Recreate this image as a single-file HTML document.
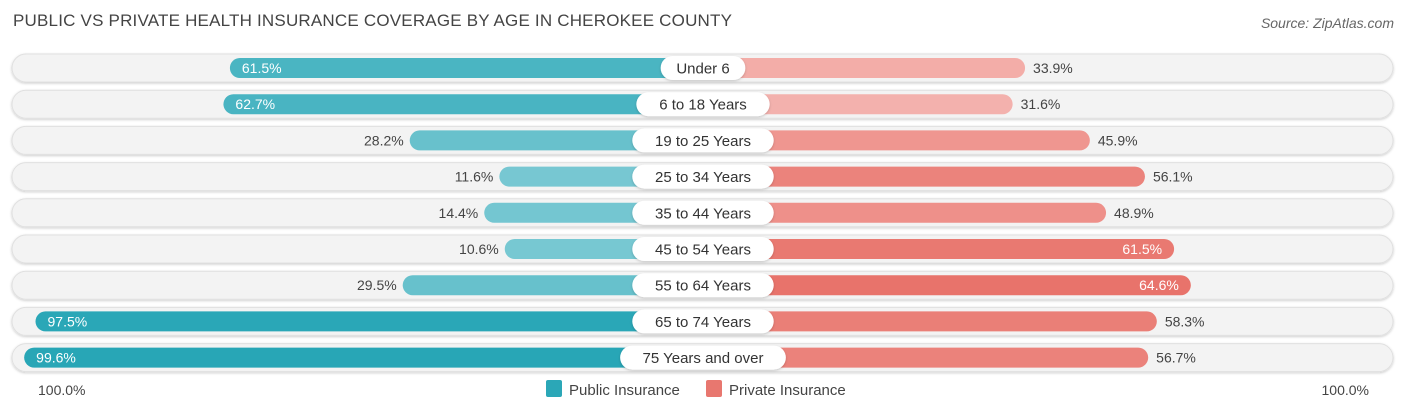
<!DOCTYPE html>
<html><head><meta charset="utf-8"><style>
body{margin:0;background:#fff;font-family:"Liberation Sans",Arial,sans-serif;}
#wrap{position:relative;width:1406px;height:414px;overflow:hidden;}
.title{position:absolute;left:13px;top:11px;font-size:17px;color:#444;letter-spacing:0.2px;}
.source{position:absolute;right:12px;top:15px;font-size:14px;color:#666;font-style:italic;}
</style></head><body>
<div id="wrap">
<div class="title">PUBLIC VS PRIVATE HEALTH INSURANCE COVERAGE BY AGE IN CHEROKEE COUNTY</div>
<div class="source">Source: ZipAtlas.com</div>
<svg id="svg" width="1406" height="414" style="position:absolute;left:0;top:0"></svg>
</div>
<script>
const categories=["Under 6","6 to 18 Years","19 to 25 Years","25 to 34 Years","35 to 44 Years","45 to 54 Years","55 to 64 Years","65 to 74 Years","75 Years and over"];
const publicVals=[61.5,62.7,28.2,11.6,14.4,10.6,29.5,97.5,99.6];
const privateVals=[33.9,31.6,45.9,56.1,48.9,61.5,64.6,58.3,56.7];
const axisLabels=["100.0%","100.0%"];
const NS="http://www.w3.org/2000/svg";
const svg=document.getElementById("svg");
const scale=540, leftBase=562, rightBase=842, y0=68, step=36.2;
function xL(p){return leftBase-p/100*scale;}
function xR(p){return rightBase+p/100*scale;}
function yC(i){return y0+i*step;}
function mix(a,b,t){return "rgb("+a.map((v,k)=>Math.round(v+(b[k]-v)*t)).join(",")+")";}
function pubColor(p){return mix([120,200,210],[40,166,182],Math.min(1,Math.max(0,(p-10)/90)));}
function priColor(p){return mix([244,180,176],[232,114,106],Math.min(1,Math.max(0,(p-30)/35)));}
function el(tag,attrs,parent){const e=document.createElementNS(NS,tag);for(const k in attrs)e.setAttribute(k,attrs[k]);(parent||svg).appendChild(e);return e;}
const defs=el("defs",{});
const f=el("filter",{id:"sh",x:"-10%",y:"-30%",width:"120%",height:"160%"},defs);
el("feDropShadow",{dx:"0",dy:"1",stdDeviation:"1.2","flood-color":"#000","flood-opacity":"0.2"},f);
categories.forEach((c,i)=>{
  const y=yC(i);
  const g=el("g",{});
  
  
  const bg=el("rect",{x:12,y:y-14,width:1381,height:28,rx:14,fill:"#f3f3f3",stroke:"#e0e0e0","stroke-width":1,filter:"url(#sh)"},g);
  
  
  const pv=publicVals[i], qv=privateVals[i];
  const lx=xL(pv);
  const pb=el("rect",{x:lx,y:y-10,width:703-lx,height:20,rx:10,fill:pubColor(pv)},g);
  
  
  const rx=xR(qv);
  const rb=el("rect",{x:703,y:y-10,width:rx-703,height:20,rx:10,fill:priColor(qv)},g);
  
  
  const pin=pv>=60;
  const pt=el("text",{x:pin?lx+12:lx-6,y:y+5,"font-size":14,fill:pin?"#fff":"#444","text-anchor":pin?"start":"end"},g);
  pt.textContent=pv.toFixed(1)+"%";
  
  
  const qin=qv>=60;
  const qt=el("text",{x:qin?rx-12:rx+8,y:y+5,"font-size":14,fill:qin?"#fff":"#444","text-anchor":qin?"end":"start"},g);
  qt.textContent=qv.toFixed(1)+"%";
  
  
  const w=c.length*8.1+28;
  const lb=el("rect",{x:703-w/2,y:y-12,width:w,height:24,rx:12,fill:"#fff",filter:"url(#sh)"},g);
  
  
  const lt=el("text",{x:703,y:y+5.5,"font-size":15,fill:"#333","text-anchor":"middle"},g);
  lt.textContent=c;
  
  
});
const a1=el("text",{x:38,y:395,"font-size":14,fill:"#444"});a1.textContent=axisLabels[0];


const a2=el("text",{x:1369,y:395,"font-size":14,fill:"#444","text-anchor":"end"});a2.textContent=axisLabels[1];


const l1=el("rect",{x:546,y:380,width:16,height:17,rx:2,fill:"#2ba7b7"});


const t1=el("text",{x:569,y:395,"font-size":15,fill:"#444"});t1.textContent="Public Insurance";


const l2=el("rect",{x:706,y:380,width:16,height:17,rx:2,fill:"#e8776f"});


const t2=el("text",{x:729,y:395,"font-size":15,fill:"#444"});t2.textContent="Private Insurance";


</script>
</body></html>
